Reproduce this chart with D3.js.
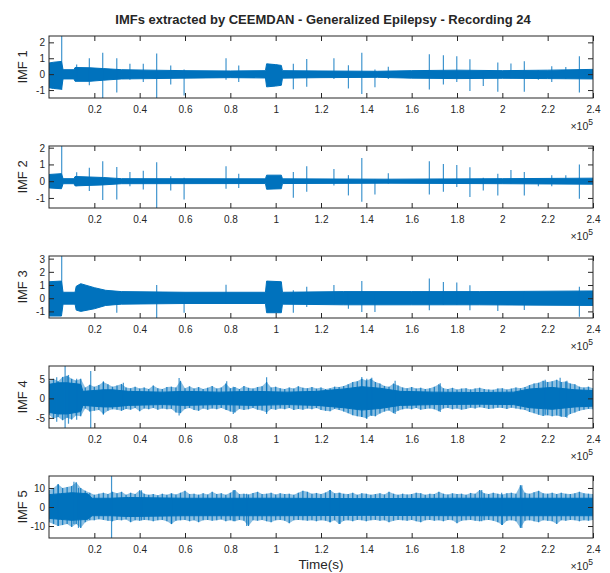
<!DOCTYPE html>
<html>
<head>
<meta charset="utf-8">
<script src="https://cdn.jsdelivr.net/npm/d3@7/dist/d3.min.js"></script>
<style>
body { margin: 0; background: #fff; }
text { font-family: 'Liberation Sans', Arial, Helvetica, sans-serif; fill: #262626; }
</style>
</head>
<body>
<div id="chart"></div>
<script>
// axis values
const titleText = 'IMFs extracted by CEEMDAN - Generalized Epilepsy - Recording 24';
const imfNames = ['IMF 1', 'IMF 2', 'IMF 3', 'IMF 4', 'IMF 5'];
const xTicks = [20000, 40000, 60000, 80000, 100000, 120000, 140000, 160000, 180000, 200000, 220000, 240000];
const xTickLabels = ['0.2', '0.4', '0.6', '0.8', '1', '1.2', '1.4', '1.6', '1.8', '2', '2.2', '2.4'];
const yTicks = [[-1, 0, 1, 2], [-1, 0, 1, 2], [-1, 0, 1, 2, 3], [-5, 0, 5], [-10, 0, 10]];
const yLimits = [[-1.5, 2.4], [-1.6, 2.1], [-1.5, 3.2], [-7.6, 8.3], [-16.3, 16.3]];

// dense core of each signal: [sample, upper, lower]
const imf1Band = [
    [0, 0.7, -0.85], [2000, 0.75, -0.9], [5500, 0.8, -0.95], [6200, 0.28, -0.3], [11000, 0.28, -0.3],
    [11500, 0.42, -0.45], [18000, 0.4, -0.45], [24000, 0.35, -0.38], [32000, 0.28, -0.3], [45000, 0.25, -0.28],
    [60000, 0.22, -0.25], [80000, 0.2, -0.22], [95500, 0.22, -0.24], [96000, 0.65, -0.8], [100000, 0.6, -0.75],
    [102500, 0.55, -0.7], [103000, 0.22, -0.25], [120000, 0.2, -0.22], [145000, 0.18, -0.2], [160000, 0.22, -0.25],
    [180000, 0.25, -0.28], [200000, 0.22, -0.26], [220000, 0.25, -0.28], [240000, 0.3, -0.3]
];
const imf2Band = [
    [0, 0.4, -0.4], [5500, 0.45, -0.45], [6200, 0.15, -0.15], [11000, 0.15, -0.15], [11500, 0.28, -0.28],
    [24000, 0.22, -0.22], [32000, 0.15, -0.15], [95500, 0.14, -0.14], [96000, 0.36, -0.48], [102500, 0.36, -0.45],
    [103000, 0.14, -0.14], [150000, 0.12, -0.12], [200000, 0.15, -0.15], [240000, 0.18, -0.18]
];
const imf3Band = [
    [0, 1.25, -1.35], [5500, 1.3, -1.35], [6200, 0.45, -0.45], [11500, 0.45, -0.45], [12000, 0.9, -0.9],
    [14000, 1.1, -1.0], [20000, 0.8, -0.8], [25000, 0.6, -0.55], [32000, 0.5, -0.45], [60000, 0.45, -0.4],
    [95500, 0.45, -0.4], [96000, 1.3, -1.1], [102500, 1.25, -1.1], [103000, 0.45, -0.45], [130000, 0.5, -0.5],
    [160000, 0.5, -0.5], [190000, 0.5, -0.5], [240000, 0.55, -0.55]
];
const imf4Band = [
    [0, 3.6, -3.6], [4000, 4, -4], [8000, 4, -4], [14000, 3.6, -3.4], [15000, 1.8, -1.8],
    [24000, 2.2, -2.2], [28000, 2.2, -2.2], [35000, 1.8, -1.8], [50000, 1.6, -1.6], [60000, 1.8, -1.8], [75000, 1.6, -1.6],
    [90000, 1.8, -1.8], [105000, 1.6, -1.6], [118000, 1.8, -1.8], [130000, 2.4, -2.4], [138000, 3, -3], [146000, 2.6, -2.6],
    [155000, 1.8, -1.8], [170000, 1.6, -1.6], [190000, 1.5, -1.5], [205000, 1.6, -1.6], [212000, 2.4, -2.4],
    [222000, 2.8, -2.8], [232000, 2.2, -2.2], [240000, 2, -2]
];
const imf5Band = [
    [0, 6.5, -6], [5000, 7, -6.5], [10000, 7.5, -7], [17000, 7, -6.5], [19000, 4.6, -4.6], [27000, 4.6, -4.6],
    [35000, 5, -5], [60000, 4.6, -4.6], [100000, 4.6, -4.6], [140000, 4.4, -4.4], [180000, 4.6, -4.6], [240000, 4.6, -4.6]
];

// hairy outer edge of IMF 4 and IMF 5, one value every 2000 samples
const outerStep = 2000;
const imf4Upper = [
    4.5, 5, 4.4, 5.5, 5.8, 5, 4.6, 5.0, 2.8, 3.5, 3, 3.4, 4.2, 3.6, 3, 3.3, 3.7, 2.8, 2.6, 3,
    2.5, 2.8, 2.4, 3.3, 2.6, 2.4, 2.9, 3, 2.8, 4.5, 2.6, 3.1, 2.5, 2.9, 2.4, 2.7, 3.2, 2.5, 2.8, 3.8,
    2.6, 2.9, 2.4, 3.2, 2.7, 2.5, 2.9, 3.1, 4.2, 2.8, 3, 2.6, 2.4, 2.8, 2.5, 3.1, 2.7, 2.6, 2.9, 2.5,
    2.8, 2.4, 2.6, 3, 2.9, 3.2, 3.6, 4.2, 4.4, 5, 4.6, 5, 4.2, 3.8, 3.2, 3, 3.8, 3.3, 2.8, 2.6,
    2.9, 2.5, 2.7, 2.4, 2.6, 3, 3.6, 2.6, 2.4, 2.7, 2.3, 2.5, 2.6, 2.3, 2.5, 2.7, 2.4, 2.3, 2.2, 2.5,
    2.6, 2.3, 2.5, 2.8, 2.6, 2.9, 3.4, 3.8, 4, 4.5, 4.2, 4.4, 4.8, 4.2, 4.3, 3.8, 3.6, 3, 2.8, 3, 2.6
];
const imf4Lower = [
    -4.2, -5.2, -4.8, -5.6, -5, -5.4, -4.4, -4.6, -2.6, -3.4, -3.2, -3, -4, -3.2, -2.8, -2.9, -3.2, -2.7, -2.9, -2.5,
    -3.3, -2.6, -2.8, -2.5, -2.9, -2.6, -2.8, -2.7, -3.6, -3.8, -2.7, -2.5, -3, -3.2, -2.6, -2.9, -2.6, -2.8, -2.5, -2.9,
    -3.4, -3.6, -2.7, -3, -2.8, -2.5, -2.9, -3.1, -3.6, -2.7, -2.9, -2.6, -2.8, -2.5, -3, -2.7, -2.9, -2.6, -2.8, -2.5,
    -3, -3.2, -3.3, -2.7, -3, -3.4, -3.8, -4.3, -4.6, -4.8, -5.1, -4.4, -4.6, -3.9, -3.4, -3.1, -3.8, -3.2, -2.8, -2.6,
    -2.8, -2.5, -2.9, -2.7, -2.6, -2.8, -3.3, -2.6, -2.5, -2.8, -2.6, -2.9, -2.7, -2.4, -2.6, -2.3, -2.5, -2.7, -2.6, -2.4,
    -2.5, -2.7, -2.4, -2.6, -2.8, -3, -3.5, -3.8, -4.2, -4.5, -4.3, -4.6, -4.4, -4.7, -4.8, -4, -3.6, -3.2, -2.9, -2.7, -2.8
];
const imf5Upper = [
    9, 10, 12, 10, 10.5, 11, 13, 10, 8.5, 7.5, 6.5, 7, 7.5, 6.8, 8, 7.2, 8, 6.5, 7.5, 6.8,
    8.8, 7, 6.5, 6.8, 6.2, 7, 6.5, 7.2, 6.6, 7.5, 8.5, 6.8, 7, 6.5, 7.2, 6.6, 8, 6.8, 7.2, 6.5,
    7.5, 9, 6.8, 7, 6.6, 7.4, 8, 6.8, 7, 7.5, 6.6, 7.2, 6.8, 7, 6.5, 7.5, 8.5, 8, 7, 7.4,
    6.8, 7.6, 9, 7.2, 7.5, 7, 6.8, 7.5, 6.5, 7.2, 7, 6.5, 6.8, 7.2, 6.6, 8, 7, 6.5, 7, 6.6,
    6.8, 7.5, 7.2, 6.5, 7, 6.8, 8, 7, 6.6, 7.2, 6.8, 7, 6.5, 7.4, 7, 9, 7.2, 6.8, 7.5, 7,
    6.6, 7.2, 7.5, 7, 11.5, 7.5, 7, 7.8, 8.5, 7.2, 7, 7.5, 6.8, 7.5, 7, 6.8, 7.2, 8, 7.2, 7, 6.8
];
const imf5Lower = [
    -8, -9, -10, -9.5, -9, -10.5, -9, -11, -8, -7, -7, -6.5, -6.8, -7.2, -7.5, -6.8, -7, -6.6, -8, -7,
    -7.2, -6.8, -7, -7.5, -7, -6.8, -7.5, -9, -7.2, -7, -6.8, -7.5, -7, -8, -7, -6.8, -7.2, -7, -6.6, -7.5,
    -7, -7.5, -6.8, -7.2, -10, -7, -7.2, -6.8, -7.5, -8, -7, -6.8, -7.2, -8.5, -7, -6.8, -7, -7.2, -7, -7.5,
    -7, -7.2, -8, -7, -9, -7.2, -7, -7.5, -6.8, -7, -7.5, -7, -6.8, -7.2, -7, -8, -7.2, -6.8, -7, -7.2,
    -6.8, -7.5, -8, -7, -6.8, -7.2, -7, -7.5, -6.8, -7, -8.5, -7.2, -7, -6.8, -7.2, -7.5, -7, -6.8, -7.2, -8,
    -9.5, -7.2, -7, -7.5, -11, -7.2, -7, -7.5, -8, -7, -7.2, -7.5, -9, -7, -7.2, -6.8, -7, -7.5, -7, -7.2, -6.8
];

// isolated spikes: [sample, top, bottom]
const imf1Spikes = [
    [5600, 2.4, -1.0], [12200, 0.6, -0.4], [17800, 1.0, -0.7], [23700, 1.35, -1.5], [29900, 1.0, -1.15],
    [35700, 0.65, -0.35], [41600, 0.65, -0.5], [47500, 1.3, -1.5], [53700, 0.55, -0.65], [59600, 0.3, -1.35],
    [78100, 1.0, -0.35], [83700, 0.55, -0.5], [107800, 0.65, -0.95], [113700, 0.95, -0.8], [125700, 1.0, -0.3],
    [132100, 0.56, -0.9], [138000, 1.35, -1.25], [143800, 0.3, -0.83], [149700, 0.46, -0.3], [167800, 1.25, -0.96],
    [174000, 1.19, -0.65], [179900, 1.12, -0.5], [185700, 0.94, -1.06], [191600, 0.2, -0.75], [198000, 0.73, -1.1],
    [203800, 0.67, -0.25], [209700, 0.81, -1.1], [215900, 0.25, -0.35], [221800, 0.5, -0.5], [228000, 0.45, -0.3],
    [234000, 1.12, -1.15]
];
const imf2Spikes = [
    [5600, 2.2, -0.3], [12200, 0.53, -0.3], [17800, 0.8, -0.59], [23700, 1.19, -1.13], [29900, 0.85, -1.09],
    [35700, 0.55, -0.3], [41600, 0.63, -0.5], [47500, 1.13, -1.6], [53700, 0.3, -0.55], [59600, 0.2, -1.09],
    [78100, 0.89, -0.45], [83700, 0.45, -0.4], [107800, 0.55, -0.99], [113700, 0.89, -0.63], [125700, 0.73, -0.25],
    [132100, 0.36, -0.85], [138000, 1.38, -1.23], [143800, 0.1, -0.8], [149700, 0.48, -0.15], [167800, 1.19, -0.79],
    [174000, 1.03, -0.63], [179900, 0.97, -0.35], [185700, 0.83, -0.95], [191600, 0.2, -0.55], [198000, 0.45, -0.85],
    [203800, 0.67, -0.15], [209700, 0.55, -0.85], [215900, 0.1, -0.3], [221800, 0.35, -0.3], [228000, 0.35, -0.15],
    [234000, 0.99, -1.05]
];
const imf3Spikes = [
    [5600, 3.2, -0.5], [29900, 0.4, -1.1], [47500, 1.0, -1.5], [59600, 0.4, -1.1], [78100, 1.03, -0.4],
    [107800, 0.6, -1.1], [113700, 0.86, -0.66], [125700, 1.0, -0.45], [132100, 0.45, -0.8], [138000, 1.31, -1.04],
    [143800, 0.45, -1.04], [167800, 1.49, -0.91], [174000, 1.23, -0.5], [179900, 1.19, -0.5], [185700, 0.98, -0.91],
    [198000, 0.5, -0.96], [209700, 0.5, -0.9], [234000, 0.86, -1.4]
];
const imf4Spikes = [
    [3400, 5.4, -6], [7100, 8.3, -7.6], [8600, 6, -6.5], [12200, 5, -5.5], [18400, 7, -7.6], [24000, 4.4, -4.2],
    [32800, 4, -3], [57400, 5.2, -4.4], [78400, 4.4, -3], [81300, 3, -4], [96000, 5.4, -4],
    [138000, 5.5, -4.8], [140200, 5, -5.3], [142400, 5.3, -4.5], [152700, 4.5, -4], [172600, 3.9, -3.5],
    [218900, 4.8, -4.2], [225500, 5.3, -4.5], [228500, 4.5, -5]
];
const imf5Spikes = [
    [4100, 12, -10], [11000, 13.3, -9], [13000, 10, -11], [27600, 16.3, -16.3], [40800, 8.8, -7], [54100, 7, -9],
    [81300, 9, -7.5], [87200, 7, -10], [124000, 9, -8], [128400, 7.5, -9], [190900, 9, -7.5], [199700, 7.5, -9.5],
    [208600, 11.5, -11]
];

const imfBands = [imf1Band, imf2Band, imf3Band, imf4Band, imf5Band];
const imfOuter = [null, null, null, [imf4Upper, imf4Lower], [imf5Upper, imf5Lower]];
const imfSpikes = [imf1Spikes, imf2Spikes, imf3Spikes, imf4Spikes, imf5Spikes];

class ImfPlot {

    constructor(_config, _band, _outer, _spikes) {
        this.config = {
            svg: _config.svg,
            index: _config.index,
            left: _config.left,
            top: _config.top,
            width: _config.width,
            height: _config.height,
        }
        this.band = _band;
        this.outer = _outer;
        this.spikes = _spikes;
        this.initVis();
    }

    initVis() {
        let vis = this;
        let i = vis.config.index;
        vis.g = vis.config.svg.append('g')
            .attr('transform', `translate(${vis.config.left},${vis.config.top})`);
        vis.xScale = d3.scaleLinear()
            .domain([0, 240000])
            .range([0, vis.config.width]);
        vis.yScale = d3.scaleLinear()
            .domain(yLimits[i])
            .range([vis.config.height, 0]);
        vis.g.append('clipPath')
            .attr('id', `clip${i}`)
            .append('rect')
            .attr('width', vis.config.width)
            .attr('height', vis.config.height);
        vis.plot = vis.g.append('g')
            .attr('clip-path', `url(#clip${i})`);
        vis.renderVis();
    }

    renderVis() {
        let vis = this;
        let i = vis.config.index;
        let area = d3.area()
            .x((d) => vis.xScale(d[0]))
            .y0((d) => vis.yScale(d[2]))
            .y1((d) => vis.yScale(d[1]));
        if (vis.outer) {
            let rows = vis.outer[0].map((u, k) => [k * outerStep, u, vis.outer[1][k]]);
            // faint fill between the hairs, then one hair per value
            vis.plot.append('path')
                .datum(rows)
                .attr('d', area)
                .attr('fill', '#0072BD')
                .attr('fill-opacity', 0.45);
            vis.plot.selectAll('.hair')
                .data(rows)
                .enter()
                .append('line')
                .attr('class', 'hair')
                .attr('x1', (d) => vis.xScale(d[0]))
                .attr('x2', (d) => vis.xScale(d[0]))
                .attr('y1', (d) => vis.yScale(d[1]))
                .attr('y2', (d) => vis.yScale(d[2]))
                .attr('stroke', '#0072BD')
                .attr('stroke-opacity', 0.8)
                .attr('stroke-width', 1.3);
        }
        vis.plot.append('path')
            .datum(vis.band)
            .attr('d', area)
            .attr('fill', '#0072BD')
            .attr('stroke', '#0072BD')
            .attr('stroke-width', 1);
        vis.plot.selectAll('.spike')
            .data(vis.spikes)
            .enter()
            .append('line')
            .attr('class', 'spike')
            .attr('x1', (d) => vis.xScale(d[0]))
            .attr('x2', (d) => vis.xScale(d[0]))
            .attr('y1', (d) => vis.yScale(d[1]))
            .attr('y2', (d) => vis.yScale(d[2]))
            .attr('stroke', '#0072BD')
            .attr('stroke-opacity', 0.75)
            .attr('stroke-width', 1.2);

        // ticks point inward on all four sides
        let bottom = vis.g.append('g')
            .attr('transform', `translate(0,${vis.config.height})`)
            .call(d3.axisBottom(vis.xScale)
                .tickValues(xTicks)
                .tickFormat((d, k) => xTickLabels[k])
                .tickSizeInner(-5)
                .tickSizeOuter(0)
                .tickPadding(8));
        let top = vis.g.append('g')
            .call(d3.axisTop(vis.xScale)
                .tickValues(xTicks)
                .tickFormat('')
                .tickSizeInner(-5)
                .tickSizeOuter(0));
        let left = vis.g.append('g')
            .call(d3.axisLeft(vis.yScale)
                .tickValues(yTicks[i])
                .tickFormat((d) => String(d))
                .tickSizeInner(-5)
                .tickSizeOuter(0)
                .tickPadding(4));
        let right = vis.g.append('g')
            .attr('transform', `translate(${vis.config.width},0)`)
            .call(d3.axisRight(vis.yScale)
                .tickValues(yTicks[i])
                .tickFormat('')
                .tickSizeInner(-5)
                .tickSizeOuter(0));
        [bottom, top, left, right].forEach((a) => {
            a.select('.domain').remove();
            a.selectAll('line').attr('stroke', '#262626');
            a.selectAll('text')
                .style('font-size', '10px')
                .style('font-family', "'Liberation Sans', Arial, sans-serif")
                .attr('fill', '#262626');
        });
        left.selectAll('text').attr('dy', '0.35em');
        vis.g.append('rect')
            .attr('width', vis.config.width)
            .attr('height', vis.config.height)
            .attr('fill', 'none')
            .attr('stroke', '#262626')
            .attr('stroke-width', 1);

        vis.g.append('text')
            .attr('transform', `translate(-22,${vis.config.height / 2}) rotate(-90)`)
            .attr('text-anchor', 'middle')
            .style('font-size', '13px')
            .text(imfNames[i]);

        let exp = vis.g.append('text')
            .attr('x', vis.config.width)
            .attr('y', vis.config.height + 32)
            .attr('text-anchor', 'end')
            .style('font-size', '10.5px');
        exp.append('tspan').text('\u00d710');
        exp.append('tspan')
            .attr('dy', -5)
            .style('font-size', '8.5px')
            .text('5');
    }
}

const svg = d3.select('#chart')
    .append('svg')
    .attr('width', 610)
    .attr('height', 573);

svg.append('rect')
    .attr('width', 610)
    .attr('height', 573)
    .attr('fill', '#fff');

svg.append('text')
    .attr('x', 323)
    .attr('y', 23.5)
    .attr('text-anchor', 'middle')
    .style('font-size', '13px')
    .style('font-weight', 'bold')
    .text(titleText);

const tops = [36, 146, 256, 366, 476];
imfNames.forEach((name, i) => {
    new ImfPlot({svg: svg, index: i, left: 49, top: tops[i], width: 544, height: 62}, imfBands[i], imfOuter[i], imfSpikes[i]);
});

svg.append('text')
    .attr('x', 321)
    .attr('y', 569)
    .attr('text-anchor', 'middle')
    .style('font-size', '13.5px')
    .text('Time(s)');
</script>
</body>
</html>
